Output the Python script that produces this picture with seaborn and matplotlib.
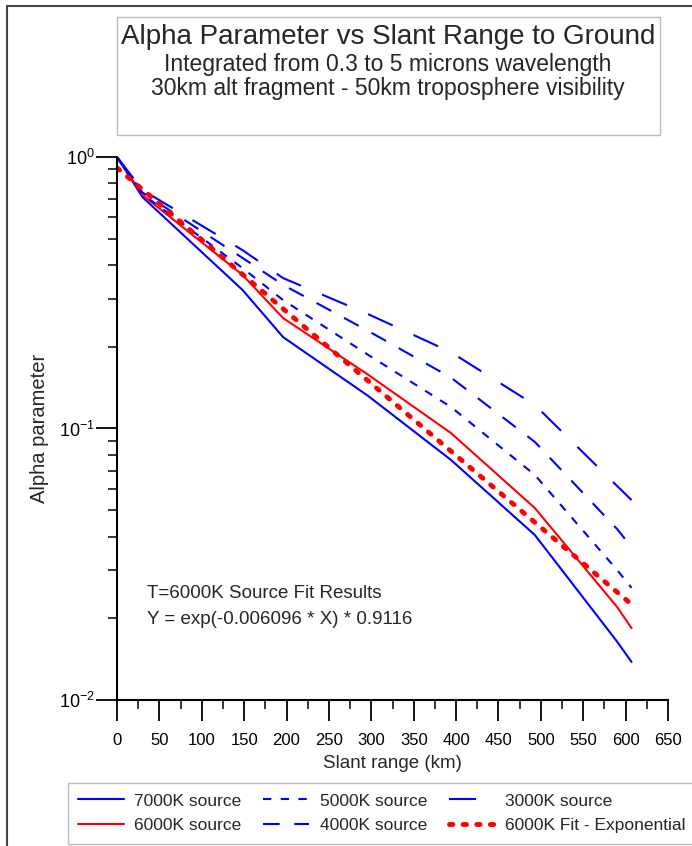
import seaborn as sns
import matplotlib.pyplot as plt
from matplotlib.lines import Line2D
from matplotlib.patches import Rectangle
from matplotlib.ticker import LogLocator, MultipleLocator, NullFormatter

# slant range breakpoints (km)
slant_km = [0, 30, 148, 196, 296, 394, 493, 590, 607]

alpha_7000 = [1.0, 0.712, 0.324, 0.217, 0.132, 0.0766, 0.0405, 0.0164, 0.0138]
alpha_6000 = [1.0, 0.725, 0.368, 0.255, 0.158, 0.0962, 0.0509, 0.0220, 0.0184]
alpha_5000 = [1.0, 0.73, 0.390, 0.297, 0.187, 0.120, 0.0674, 0.0301, 0.0259]
alpha_4000 = [1.0, 0.74, 0.425, 0.338, 0.229, 0.154, 0.0892, 0.0426, 0.0366]
alpha_3000 = [1.0, 0.756, 0.454, 0.358, 0.264, 0.191, 0.122, 0.0614, 0.0545]

fit_km = [0, 607]
fit_6000 = [0.9116, 0.0225]

series = [
    ("7000K source", slant_km, alpha_7000, "#0000ff", "-", 1.5),
    ("6000K source", slant_km, alpha_6000, "#ff0000", "-", 1.5),
    ("5000K source", slant_km, alpha_5000, "#0000ff", (0, (4, 4.5)), 1.5),
    ("4000K source", slant_km, alpha_4000, "#0000ff", (0, (8, 7)), 1.5),
    ("3000K source", slant_km, alpha_3000, "#0000ff", (0, (13, 11)), 1.5),
    ("6000K Fit - Exponential", fit_km, fit_6000, "#ff0000", (0, (0.7, 2.1)), 3.5),
]

sns.set_style("ticks")
plt.rcParams['font.family'] = ['Liberation Sans', 'DejaVu Sans']
plt.rcParams['mathtext.fontset'] = 'custom'
plt.rcParams['mathtext.rm'] = 'Liberation Sans'
plt.rcParams['mathtext.it'] = 'Liberation Sans:italic'

fig = plt.figure(figsize=(6.92, 8.46), dpi=100)
fig.patch.set_facecolor("white")
ax = fig.add_axes([117 / 692, 1 - 700 / 846, (668 - 117) / 692, (700 - 157) / 846])

for label, xs, ys, color, ls, lw in series:
    sns.lineplot(x=xs, y=ys, ax=ax, color=color, linestyle=ls, linewidth=lw, label=label,
                 dash_capstyle="round" if lw > 3 else "butt")

ax.set_yscale("log")
ax.set_xlim(0, 650)
ax.set_ylim(0.01, 1)
ax.xaxis.set_major_locator(MultipleLocator(50))
ax.xaxis.set_minor_locator(MultipleLocator(25))
ax.yaxis.set_major_locator(LogLocator(base=10, numticks=5))
ax.yaxis.set_minor_locator(LogLocator(base=10, subs=range(2, 10), numticks=20))
ax.yaxis.set_minor_formatter(NullFormatter())

for side in ["top", "right"]:
    ax.spines[side].set_visible(False)
for side in ["left", "bottom"]:
    ax.spines[side].set_linewidth(1.5)
    ax.spines[side].set_color("black")
ax.tick_params(which="major", direction="out", length=15, width=1.3, labelsize=12, colors="black")
ax.tick_params(which="minor", direction="out", length=6.5, width=1.3)
ax.tick_params(axis="x", which="major", pad=8.5)
ax.tick_params(axis="y", which="major", pad=1, labelsize=13)
ax.grid(False)

ax.set_xlabel("Slant range (km)", fontsize=13.5, labelpad=5.5)
ax.set_ylabel("Alpha parameter", fontsize=14.5, labelpad=7)

# fit results note
fig.text(147 / 692, 1 - 593 / 846, "T=6000K Source Fit Results", fontsize=13.5, va="center")
fig.text(147 / 692, 1 - 620 / 846, "Y = exp(-0.006096 * X) * 0.9116", fontsize=13.5, va="center")

# title box
fig.patches.append(Rectangle((117 / 692, 1 - 135 / 846), (660 - 117) / 692, (135 - 17) / 846,
                             transform=fig.transFigure, facecolor="white", edgecolor="#bbbbbb", lw=1))
fig.text(388 / 692, 1 - 37 / 846, "Alpha Parameter vs Slant Range to Ground", fontsize=20, ha="center", va="center")
fig.text(388 / 692, 1 - 64 / 846, "Integrated from 0.3 to 5 microns wavelength", fontsize=16.5, ha="center", va="center")
fig.text(388 / 692, 1 - 89 / 846, "30km alt fragment - 50km troposphere visibility", fontsize=16.5, ha="center", va="center")

# outer frame (top and left edges)
fig.add_artist(Line2D([7 / 692, 1], [1 - 6 / 846, 1 - 6 / 846], transform=fig.transFigure, color="#444444", lw=1.5))
fig.add_artist(Line2D([7 / 692, 7 / 692], [0, 1 - 6 / 846], transform=fig.transFigure, color="#444444", lw=1.5))

leg = ax.legend(loc="upper left", bbox_to_anchor=(68 / 692, 1 - 783 / 846), bbox_transform=fig.transFigure,
                ncol=3, fontsize=12.5, frameon=True, fancybox=False, handlelength=2.65, handletextpad=0.58,
                columnspacing=1.25, borderpad=0.6, labelspacing=0.55, borderaxespad=0)
leg.get_frame().set_edgecolor("#aaaaaa")
leg.get_frame().set_linewidth(1)

fig.savefig("out.png", dpi=100)
